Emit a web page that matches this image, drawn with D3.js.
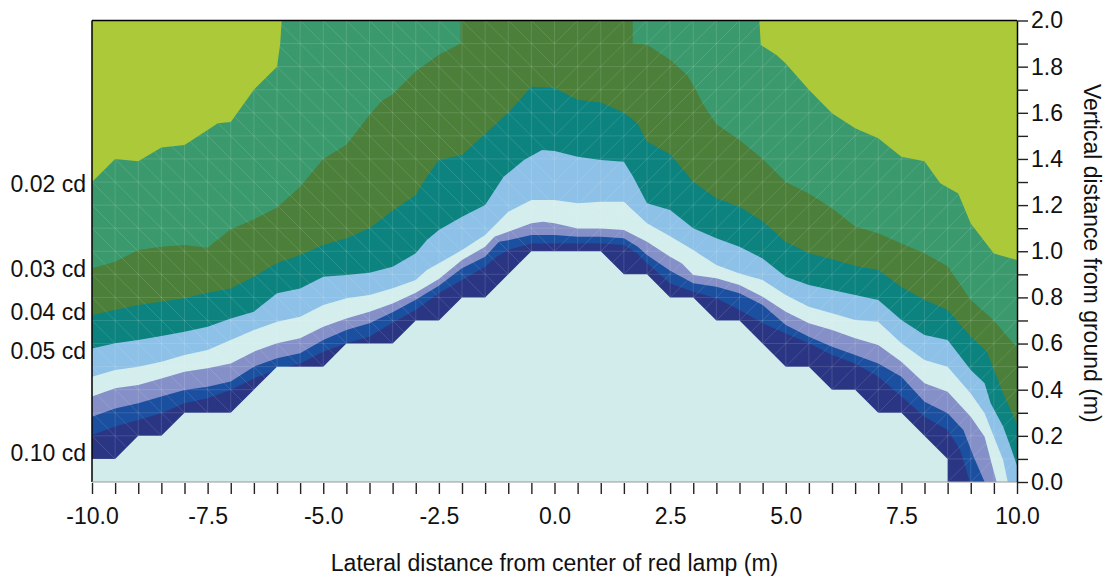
<!DOCTYPE html>
<html lang="en">
<head>
<meta charset="utf-8" />
<title>Red lamp intensity contours</title>
<script src="https://d3js.org/d3.v7.min.js"></script>
<style>
  body { margin: 0; background: #fff; }
  text { font-family: "Liberation Sans", Arial, sans-serif; fill: #111; }
</style>
</head>
<body>
<script>
// contour boundaries, one per intensity level: [lateral distance m, height m]
var lvl002 = [[-10,1.30],[-9.5,1.40],[-9,1.39],[-8.5,1.45],[-8,1.46],[-7.5,1.525],[-7.28,1.555],[-7,1.56],[-6.5,1.70],[-6,1.80],[-5.93,1.90],[-5.9,2.0],
  [4.43,2.0],[4.46,1.894],[4.8,1.85],[5,1.814],[5.5,1.70],[6,1.598],[6.5,1.533],[7,1.49],[7.5,1.41],[8,1.39],[8.34,1.295],[8.73,1.25],[9,1.12],[9.5,0.99],[10,0.962]];
var lvl003 = [[-10,0.926],[-9.5,0.955],[-9,1.005],[-8.5,1.02],[-8,1.027],[-7.5,1.015],[-7,1.095],[-6.5,1.138],[-6,1.19],[-5.5,1.28],[-5,1.40],[-4.5,1.462],[-4,1.59],[-3.74,1.65],[-3.5,1.68],[-3,1.78],[-2.5,1.852],[-2.03,1.90],[-2.03,2.0],
  [1.69,2.0],[1.69,1.90],[2,1.895],[2.5,1.83],[2.86,1.765],[3,1.72],[3.22,1.635],[3.5,1.55],[4,1.482],[4.5,1.40],[5,1.30],[5.5,1.25],[6,1.186],[6.5,1.107],[7,1.078],[7.5,1.034],[8,0.991],[8.5,0.935],[9,0.789],[9.5,0.70],[9.92,0.60],[10,0.586]];
var lvl004 = [[-10,0.724],[-9.5,0.745],[-9,0.767],[-8.5,0.781],[-8,0.796],[-7.5,0.82],[-7,0.839],[-6.5,0.89],[-6,0.948],[-5.5,0.984],[-5,1.027],[-4.5,1.056],[-4,1.10],[-3.5,1.175],[-3,1.244],[-2.76,1.323],[-2.5,1.395],[-2,1.417],[-1.5,1.508],[-1,1.60],[-0.5,1.713],[0,1.707],[0.5,1.657],[1,1.645],[1.5,1.60],[1.79,1.555],[2,1.475],
  [2.5,1.42],[3,1.30],[3.5,1.23],[4,1.193],[4.5,1.13],[5,1.04],[5.5,0.991],[6,0.965],[6.5,0.936],[7,0.919],[7.5,0.845],[8,0.789],[8.5,0.745],[9,0.63],[9.35,0.565],[9.53,0.471],[9.7,0.384],[10,0.25]];
var lvl005 = [[-10,0.579],[-9.5,0.601],[-9,0.615],[-8.5,0.633],[-8,0.651],[-7.5,0.673],[-7,0.709],[-6.5,0.738],[-6,0.818],[-5.5,0.839],[-5,0.89],[-4.5,0.897],[-4,0.907],[-3.5,0.933],[-3,0.991],[-2.76,1.049],[-2.5,1.092],[-2,1.15],[-1.5,1.20],[-1.1,1.323],[-0.66,1.395],[-0.27,1.439],[0,1.434],[0.5,1.41],[1,1.395],[1.5,1.388],[1.7,1.323],[2,1.208],
  [2.5,1.179],[3,1.10],[3.5,1.056],[4,1.02],[4.5,0.969],[5,0.89],[5.5,0.854],[6,0.832],[6.5,0.81],[7,0.789],[7.5,0.702],[8,0.637],[8.5,0.615],[9,0.485],[9.3,0.428],[9.43,0.341],[9.7,0.24],[9.86,0.153],[10,0.07]];
var lvl006 = [[-10,0.456],[-9.5,0.485],[-9,0.50],[-8.5,0.521],[-8,0.55],[-7.5,0.572],[-7,0.615],[-6.5,0.659],[-6,0.695],[-5.5,0.716],[-5,0.767],[-4.5,0.796],[-4,0.81],[-3.5,0.84],[-3,0.875],[-2.76,0.919],[-2.5,0.948],[-2,1.005],[-1.5,1.07],[-1,1.171],[-0.5,1.222],[0,1.222],[0.5,1.208],[1,1.215],[1.5,1.215],[2,1.121],
  [2.5,1.065],[3,1.005],[3.5,0.94],[4,0.904],[4.5,0.875],[5,0.81],[5.5,0.76],[6,0.731],[6.5,0.702],[7,0.695],[7.5,0.601],[8,0.529],[8.5,0.50],[9,0.384],[9.3,0.298],[9.5,0.196],[9.7,0.095],[9.8,0],[10,0]];
var lvl007 = [[-10,0.37],[-9.5,0.406],[-9,0.42],[-8.5,0.449],[-8,0.478],[-7.5,0.493],[-7,0.514],[-6.5,0.565],[-6,0.601],[-5.5,0.623],[-5,0.673],[-4.5,0.709],[-4,0.738],[-3.5,0.774],[-3,0.82],[-2.5,0.88],[-2,0.962],[-1.5,1.02],[-1.3,1.063],[-1,1.085],[-0.5,1.121],[-0.25,1.128],[0,1.121],[0.5,1.099],[1,1.099],[1.5,1.092],[2,1.041],
  [2.5,0.976],[2.75,0.948],[3,0.897],[3.5,0.883],[4,0.854],[4.5,0.803],[5,0.738],[5.5,0.688],[6,0.659],[6.5,0.623],[7,0.594],[7.5,0.521],[8,0.428],[8.5,0.391],[9,0.283],[9.3,0.196],[9.45,0.081],[9.56,0],[10,0]];
var lvl008 = [[-10,0.283],[-9.5,0.319],[-9,0.341],[-8.5,0.37],[-8,0.399],[-7.5,0.413],[-7,0.435],[-6.5,0.50],[-6,0.536],[-5.5,0.558],[-5,0.615],[-4.5,0.659],[-4,0.688],[-3.5,0.736],[-3,0.79],[-2.5,0.85],[-2,0.926],[-1.5,0.976],[-1.2,1.041],[-1,1.048],[-0.5,1.07],[0,1.07],[0.5,1.063],[1,1.063],[1.5,1.056],[1.8,1.02],[2,0.984],
  [2.5,0.915],[3,0.861],[3.5,0.846],[4,0.818],[4.5,0.767],[5,0.68],[5.5,0.63],[6,0.586],[6.5,0.55],[7,0.514],[7.5,0.456],[8,0.348],[8.5,0.298],[8.84,0.225],[9.06,0.11],[9.3,0],[10,0]];
var lvl009 = [[-10,0.204],[-9.5,0.24],[-9,0.269],[-8.5,0.298],[-8,0.341],[-7.5,0.363],[-7,0.399],[-6.5,0.449],[-6,0.485],[-5.5,0.514],[-5,0.565],[-4.5,0.601],[-4,0.63],[-3.5,0.69],[-3,0.745],[-2.5,0.818],[-2,0.875],[-1.5,0.933],[-1.25,0.976],[-1,1.005],[-0.5,1.034],[0,1.034],[0.5,1.034],[1,1.034],[1.5,1.027],[1.78,0.991],[2,0.948],
  [2.5,0.86],[3,0.825],[3.5,0.796],[4,0.745],[4.5,0.688],[5,0.644],[5.5,0.601],[6,0.55],[6.5,0.514],[7,0.456],[7.5,0.37],[8,0.283],[8.5,0.225],[8.77,0.139],[8.98,0],[10,0]];
var lvl010 = [[-10,0.1],[-9.5,0.1],[-9,0.2],[-8.5,0.2],[-8,0.3],[-7,0.3],[-6.5,0.4],[-6,0.5],[-5,0.5],[-4.5,0.6],[-3.5,0.6],[-3,0.7],[-2.5,0.7],[-2,0.8],[-1.5,0.8],[-0.5,1.0],[1,1.0],
  [1.5,0.9],[2,0.9],[2.5,0.8],[3,0.8],[3.5,0.7],[4,0.7],[5,0.5],[5.5,0.5],[6,0.4],[6.5,0.4],[7,0.3],[7.5,0.3],[8.5,0.1],[8.5,0],[10,0]];

var boundaries = [lvl002, lvl003, lvl004, lvl005, lvl006, lvl007, lvl008, lvl009, lvl010];
// fill above the first boundary, then below each boundary in turn
var bandColors = ["#abc939", "#3b9a6d", "#4b7f3a", "#0c837e", "#8dc1e7", "#d4eded", "#8590c8", "#1b4f9f", "#2a3684", "#d2ecec"];

var levelLabels = ["0.02 cd", "0.03 cd", "0.04 cd", "0.05 cd", "0.10 cd"];
var levelLabelAt = [1.294, 0.926, 0.74, 0.568, 0.126];

var xTickValues = d3.range(-10, 10.001, 0.5);
var yTickValues = d3.range(0, 2.001, 0.1);

var width = 1108, height = 579;
var plotL = 92, plotR = 1017, plotT = 20.5, plotB = 482;

var svg = d3.select("body").append("svg")
    .attr("width", width)
    .attr("height", height);

var x = d3.scaleLinear().domain([-10, 10]).range([plotL, plotR]);
var y = d3.scaleLinear().domain([0, 2]).range([plotB, plotT]);

svg.append("clipPath").attr("id", "plot")
  .append("rect")
    .attr("x", plotL).attr("y", plotT)
    .attr("width", plotR - plotL).attr("height", plotB - plotT);

var plot = svg.append("g").attr("clip-path", "url(#plot)");

plot.append("rect")
    .attr("x", plotL).attr("y", plotT)
    .attr("width", plotR - plotL).attr("height", plotB - plotT)
    .attr("fill", bandColors[0]);

var area = d3.area()
    .x(function (d) { return x(d[0]); })
    .y0(y(0))
    .y1(function (d) { return y(d[1]); });

plot.selectAll("path.band")
  .data(boundaries)
  .enter().append("path")
    .attr("class", "band")
    .attr("d", area)
    .attr("fill", function (d, i) { return bandColors[i + 1]; });

// faint triangulation seams in the banded zone
var line = d3.line().x(function (d) { return x(d[0]); }).y(function (d) { return y(d[1]); });
var zone = lvl002.concat(lvl010.slice().reverse());
svg.append("clipPath").attr("id", "zone")
  .append("path").attr("d", line(zone) + "Z");

var mesh = [];
for (var i = 0; i < 40; i++) {
  for (var j = 0; j < 20; j++) {
    var x0 = -10 + i * 0.5, v0 = j * 0.1;
    if (x0 < 0) mesh.push([[x0, v0 + 0.1], [x0 + 0.5, v0]]);
    else mesh.push([[x0, v0], [x0 + 0.5, v0 + 0.1]]);
  }
}
xTickValues.forEach(function (t) { mesh.push([[t, 0], [t, 2]]); });
yTickValues.forEach(function (t) { mesh.push([[-10, t], [10, t]]); });

plot.append("g")
    .attr("clip-path", "url(#zone)")
  .selectAll("path")
  .data(mesh)
  .enter().append("path")
    .attr("d", line)
    .attr("stroke", "#fff")
    .attr("stroke-opacity", 0.13)
    .attr("stroke-width", 1)
    .attr("fill", "none");

// frame
svg.append("line").attr("x1", plotL).attr("x2", plotR).attr("y1", plotT).attr("y2", plotT)
    .attr("stroke", "#000").attr("stroke-width", 1.5);
svg.append("line").attr("x1", plotL).attr("x2", plotL).attr("y1", plotT).attr("y2", plotB)
    .attr("stroke", "#000").attr("stroke-width", 1.5);
svg.append("line").attr("x1", plotL).attr("x2", plotR).attr("y1", plotB).attr("y2", plotB)
    .attr("stroke", "#999").attr("stroke-width", 1);

// axes
var xAxis = svg.append("g")
    .attr("transform", "translate(0," + (plotB + 1) + ")")
    .call(d3.axisBottom(x)
      .tickValues(xTickValues)
      .tickSize(11)
      .tickSizeOuter(0)
      .tickPadding(14)
      .tickFormat(function (d) { return Math.abs(d / 2.5 - Math.round(d / 2.5)) < 1e-9 ? d.toFixed(1) : ""; }));
xAxis.select(".domain").remove();
xAxis.selectAll(".tick line").attr("stroke", "#222").attr("stroke-width", 1.4);
xAxis.selectAll("text").attr("font-size", 23).attr("fill", "#111");

var yAxis = svg.append("g")
    .attr("transform", "translate(" + plotR + ",0)")
    .call(d3.axisRight(y)
      .tickValues(yTickValues)
      .tickSize(11)
      .tickSizeOuter(0)
      .tickPadding(3)
      .tickFormat(function (d) { return Math.round(d * 10) % 2 === 0 ? d.toFixed(1) : ""; }));
yAxis.select(".domain").attr("stroke", "#000").attr("stroke-width", 1.5);
yAxis.selectAll(".tick line").attr("stroke", "#222").attr("stroke-width", 1.4);
yAxis.selectAll("text").attr("font-size", 23).attr("fill", "#111");

// titles
svg.append("text")
    .attr("x", (plotL + plotR) / 2)
    .attr("y", 571)
    .attr("text-anchor", "middle")
    .attr("font-size", 23)
    .text("Lateral distance from center of red lamp (m)");

svg.append("text")
    .attr("transform", "translate(1084," + ((plotT + plotB) / 2 + 2) + ") rotate(90)")
    .attr("text-anchor", "middle")
    .attr("font-size", 23)
    .text("Vertical distance from ground (m)");

// level labels on the left edge
svg.selectAll("text.level")
  .data(levelLabels)
  .enter().append("text")
    .attr("class", "level")
    .attr("x", 86)
    .attr("y", function (d, i) { return y(levelLabelAt[i]); })
    .attr("dy", "0.36em")
    .attr("text-anchor", "end")
    .attr("font-size", 23)
    .text(function (d) { return d; });
</script>
</body>
</html>
